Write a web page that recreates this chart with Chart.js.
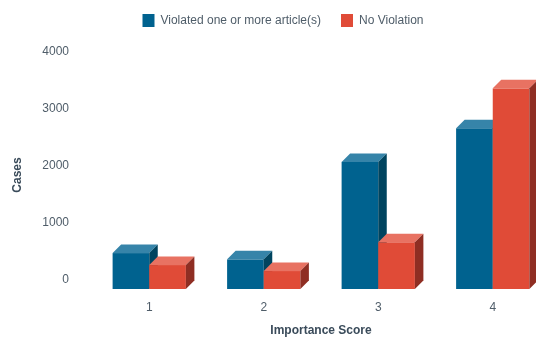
<!DOCTYPE html>
<html><head><meta charset="utf-8">
<script src="https://cdn.jsdelivr.net/npm/chart.js@4/dist/chart.umd.min.js"></script>
<style>
html,body{margin:0;padding:0;background:#fff;overflow:hidden;width:536px;height:346px}
#wrap{position:absolute;left:0;top:0;width:550px;height:346px}
</style>
</head><body><div id="wrap"><canvas id="c" width="550" height="346"></canvas></div>
<script>
// ---- data ----
const categories = ['1', '2', '3', '4'];
const seriesNames = ['Violated one or more article(s)', 'No Violation'];
const violated = [630, 520, 2230, 2820];
const noViolation = [420, 315, 820, 3520];
const yTickValues = [0, 1000, 2000, 3000, 4000];
const xTitle = 'Importance Score';
const yTitle = 'Cases';

// ---- styles ----
const FONT = "'Liberation Sans', Arial, Helvetica, sans-serif";
const TEXT = '#4f5d69';
const TITLE = '#3a4b5a';
const faces = [
  {front: '#00628f', top: '#3684a9', side: '#00445f'},
  {front: '#e04b37', top: '#e87262', side: '#8f2e23'}
];
const DX = 8.5, DY = 8.5;

const bars3d = {
  id: 'bars3d',
  beforeDatasetsDraw(chart) {
    const ctx = chart.ctx;
    const metas = chart.data.datasets.map((d, i) => chart.getDatasetMeta(i));
    const n = chart.data.labels.length;
    ctx.save();
    for (let i = 0; i < n; i++) {
      for (let d = 0; d < metas.length; d++) {
        const el = metas[d].data[i];
        if (!el) continue;
        const p = el.getProps(['x', 'y', 'base', 'width'], true);
        const l = p.x - p.width / 2, r = p.x + p.width / 2;
        const t = Math.min(p.y, p.base), b = Math.max(p.y, p.base);
        const c = faces[d];
        ctx.fillStyle = c.front;
        ctx.fillRect(l, t, r - l, b - t);
        ctx.fillStyle = c.top;
        ctx.beginPath();
        ctx.moveTo(l, t); ctx.lineTo(l + DX, t - DY); ctx.lineTo(r + DX, t - DY); ctx.lineTo(r, t);
        ctx.closePath(); ctx.fill();
        ctx.fillStyle = c.side;
        ctx.beginPath();
        ctx.moveTo(r, t); ctx.lineTo(r + DX, t - DY); ctx.lineTo(r + DX, b - DY); ctx.lineTo(r, b);
        ctx.closePath(); ctx.fill();
      }
    }
    ctx.restore();
    return false;
  }
};

const legendTweak = {
  id: 'legendTweak',
  beforeInit(chart) {
    const lg = chart.legend;
    if (!lg) return;
    const fit = lg.fit;
    lg.fit = function () { fit.call(this); this.height += 24; };
  },
  afterLayout(chart) {
    chart.legend.left += 8;
    chart.legend.right += 8;
  }
};

new Chart(document.getElementById('c'), {
  type: 'bar',
  data: {
    labels: categories,
    datasets: [
      {label: seriesNames[0], data: violated, backgroundColor: faces[0].front, borderWidth: 0},
      {label: seriesNames[1], data: noViolation, backgroundColor: faces[1].front, borderWidth: 0}
    ]
  },
  options: {
    responsive: false,
    devicePixelRatio: 1,
    animation: false,
    layout: {padding: {top: -6, left: 0, right: 0, bottom: 6}},
    datasets: {bar: {categoryPercentage: 0.64, barPercentage: 1.0}},
    plugins: {
      legend: {
        position: 'top',
        labels: {boxWidth: 12, boxHeight: 13, padding: 20, color: TEXT, font: {family: FONT, size: 12}}
      },
      tooltip: {enabled: false}
    },
    scales: {
      x: {
        afterFit(scale) { scale.height = 51; },
        grid: {display: false},
        border: {display: false},
        ticks: {color: TEXT, padding: 3, font: {family: FONT, size: 12}},
        title: {display: true, text: xTitle, color: TITLE, font: {family: FONT, size: 12, weight: 'bold'}, padding: {top: 4, bottom: 2}}
      },
      y: {
        min: 0, max: 4000,
        afterFit(scale) { scale.width = 92; },
        afterBuildTicks(scale) { scale.ticks = yTickValues.map(v => ({value: v})); },
        grid: {display: false},
        border: {display: false},
        ticks: {color: TEXT, padding: 15, labelOffset: -9, font: {family: FONT, size: 12}, callback: v => String(v)},
        title: {display: true, text: yTitle, color: TITLE, font: {family: FONT, size: 12, weight: 'bold'}, padding: {top: 10, bottom: 0}}
      }
    }
  },
  plugins: [bars3d, legendTweak]
});
</script>
</body></html>
